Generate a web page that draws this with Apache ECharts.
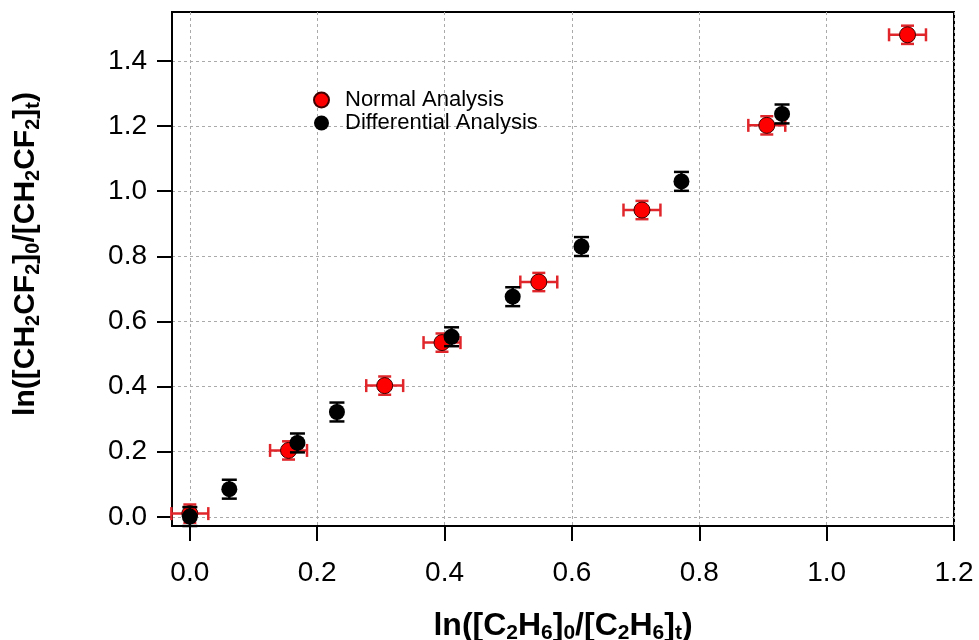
<!DOCTYPE html>
<html lang="en">
<head>
  <meta charset="UTF-8">
  <title>rate ratio plot</title>
  <script src="https://cdn.jsdelivr.net/npm/echarts@6/dist/echarts.min.js"></script>
  <style>
    html, body { margin: 0; padding: 0; background: #fff; }
    #main { width: 979px; height: 640px; }
  </style>
</head>
<body>
<div id="main"></div>
<script>
  // values
  var normalX = [0.0, 0.155, 0.306, 0.396, 0.548, 0.710, 0.906, 1.127];
  var normalY = [0.010, 0.204, 0.403, 0.535, 0.721, 0.942, 1.202, 1.480];
  var normalXErr = [0.029, 0.029, 0.029, 0.029, 0.029, 0.029, 0.029, 0.029];
  var normalYErr = [0.028, 0.028, 0.028, 0.028, 0.028, 0.028, 0.028, 0.028];

  var diffX = [0.0, 0.062, 0.169, 0.231, 0.411, 0.507, 0.615, 0.772, 0.930];
  var diffY = [0.001, 0.085, 0.227, 0.322, 0.553, 0.676, 0.830, 1.030, 1.237];
  var diffYErr = [0.029, 0.029, 0.029, 0.029, 0.029, 0.029, 0.029, 0.029, 0.029];

  var xTicks = [0.0, 0.2, 0.4, 0.6, 0.8, 1.0, 1.2];
  var yTicks = [0.0, 0.2, 0.4, 0.6, 0.8, 1.0, 1.2, 1.4];

  var redBar = '#e0262b';
  var chart = echarts.init(document.getElementById('main'));

  var normalData = normalX.map(function (x, i) {
    return [x, normalY[i], normalXErr[i], normalYErr[i]];
  });
  var diffData = diffX.map(function (x, i) {
    return [x, diffY[i], 0, diffYErr[i]];
  });

  /*
  * error bars drawn through the axis scales
  * */
  function errorBars(color, capW, withX) {
    return function (params, api) {
      var x = api.value(0), y = api.value(1);
      var ex = api.value(2), ey = api.value(3);
      var c = api.coord([x, y]);
      var top = api.coord([x, y + ey]);
      var bot = api.coord([x, y - ey]);
      var style = {stroke: color, lineWidth: 2.5};
      var h = capW / 2;
      var children = [
        {type: 'line', shape: {x1: c[0], y1: top[1], x2: c[0], y2: bot[1]}, style: style},
        {type: 'line', shape: {x1: c[0] - h, y1: top[1], x2: c[0] + h, y2: top[1]}, style: style},
        {type: 'line', shape: {x1: c[0] - h, y1: bot[1], x2: c[0] + h, y2: bot[1]}, style: style}
      ];
      if (withX) {
        var l = api.coord([x - ex, y]);
        var r = api.coord([x + ex, y]);
        children.push(
          {type: 'line', shape: {x1: l[0], y1: c[1], x2: r[0], y2: c[1]}, style: style},
          {type: 'line', shape: {x1: l[0], y1: c[1] - h, x2: l[0], y2: c[1] + h}, style: style},
          {type: 'line', shape: {x1: r[0], y1: c[1] - h, x2: r[0], y2: c[1] + h}, style: style}
        );
      }
      return {type: 'group', children: children};
    };
  }

  var font = "'Liberation Sans', Arial, sans-serif";
  function titleRich(size, subSize, drop) {
    return {
      b: {fontSize: size, fontWeight: 'bold', color: '#000', fontFamily: font},
      s: {fontSize: subSize, fontWeight: 'bold', color: '#000', fontFamily: font, padding: [drop, 0, 0, 0]}
    };
  }

  chart.setOption({
    backgroundColor: '#fff',
    animation: false,
    textStyle: {fontFamily: font},
    grid: {
      left: 172, right: 25, top: 12, bottom: 114,
      outerBoundsMode: 'none',
      show: true, borderColor: '#000', borderWidth: 2
    },
    legend: {
      orient: 'vertical',
      left: 308, top: 84,
      itemGap: 1,
      itemWidth: 15, itemHeight: 15,
      textStyle: {fontSize: 22, color: '#000', padding: [0, 0, 0, 11]},
      data: ['Normal Analysis', 'Differential Analysis']
    },
    xAxis: {
      type: 'value',
      min: -0.028, max: 1.2,
      splitNumber: 6,
      axisLine: {show: true, onZero: false, lineStyle: {color: '#000', width: 2}},
      axisTick: {show: true, length: 15, customValues: xTicks, lineStyle: {color: '#000', width: 2}},
      axisLabel: {
        customValues: xTicks, fontSize: 28, color: '#000', margin: 33,
        formatter: function (v) { return v.toFixed(1); }
      },
      splitLine: {show: true, lineStyle: {color: '#aaa', width: 1, type: [3, 3]}},
      name: '{b|ln([C}{s|2}{b|H}{s|6}{b|]}{s|0}{b|/[C}{s|2}{b|H}{s|6}{b|]}{s|t}{b|)}',
      nameLocation: 'middle',
      nameGap: 82,
      nameTextStyle: {rich: titleRich(32, 21, 15)}
    },
    yAxis: {
      type: 'value',
      min: -0.028, max: 1.55,
      splitNumber: 8,
      axisLine: {show: true, onZero: false, lineStyle: {color: '#000', width: 2}},
      axisTick: {show: true, length: 15, customValues: yTicks, lineStyle: {color: '#000', width: 2}},
      axisLabel: {
        customValues: yTicks, fontSize: 28, color: '#000', margin: 25,
        formatter: function (v) { return v.toFixed(1); }
      },
      splitLine: {show: true, lineStyle: {color: '#aaa', width: 1, type: [3, 3]}},
      name: '{b|ln([CH}{s|2}{b|CF}{s|2}{b|]}{s|0}{b|/[CH}{s|2}{b|CF}{s|2}{b|]}{s|t}{b|)}',
      nameLocation: 'middle',
      nameGap: 129,
      nameRotate: 90,
      nameTextStyle: {rich: titleRich(30, 20, 14), padding: [0, 0, 0, 30]}
    },
    series: [
      {
        type: 'custom',
        name: 'normalErr',
        renderItem: errorBars(redBar, 13, true),
        encode: {x: 0, y: 1},
        data: normalData,
        z: 2
      },
      {
        name: 'Normal Analysis',
        type: 'scatter',
        symbol: 'circle',
        symbolSize: 16,
        data: normalData.map(function (d) { return [d[0], d[1]]; }),
        itemStyle: {color: '#ff0000', borderColor: '#400000', borderWidth: 1, opacity: 1},
        z: 3
      },
      {
        type: 'custom',
        name: 'diffErr',
        renderItem: errorBars('#000', 15, false),
        encode: {x: 0, y: 1},
        data: diffData,
        z: 4
      },
      {
        name: 'Differential Analysis',
        type: 'scatter',
        symbol: 'circle',
        symbolSize: 16,
        data: diffData.map(function (d) { return [d[0], d[1]]; }),
        itemStyle: {color: '#000', opacity: 1},
        z: 5
      }
    ]
  });
</script>
</body>
</html>
